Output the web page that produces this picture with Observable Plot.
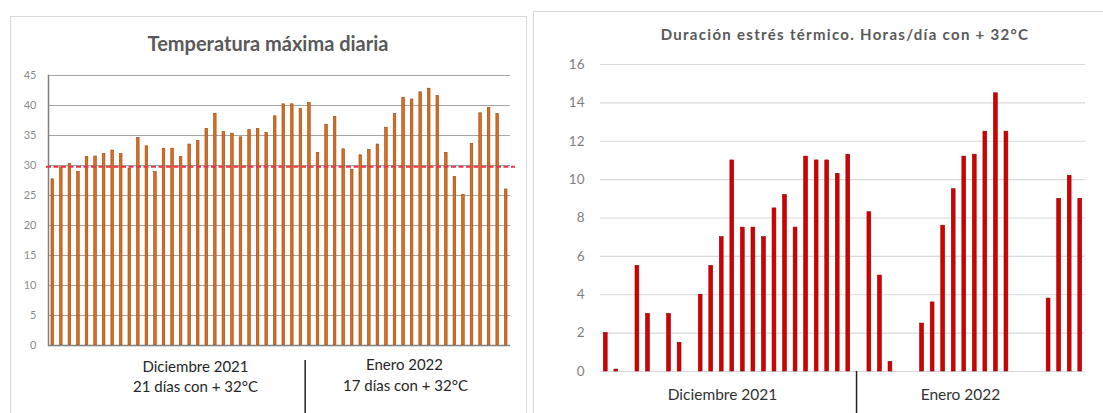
<!DOCTYPE html>
<html>
<head>
<meta charset="utf-8">
<script src="https://cdn.jsdelivr.net/npm/d3@7"></script>
<script src="https://cdn.jsdelivr.net/npm/@observablehq/plot@0.6"></script>
<style>
  html, body { margin: 0; padding: 0; background: #fff; }
  #page { position: relative; width: 1103px; height: 413px; overflow: hidden; background: #fff; font-family: Lato, "Open Sans", sans-serif; }
  .panel { position: absolute; border: 1px solid #d9d9d9; background: #fff; }
  .title { position: absolute; font-weight: bold; color: #595959; white-space: nowrap; transform: translate(-50%, -50%); }
  .chart { position: absolute; top: 0; }
</style>
</head>
<body>
<div id="page">
  <div class="panel" style="left:10px; top:16px; width:515px; height:420px;"></div>
  <div class="panel" style="left:533px; top:11px; width:600px; height:420px;"></div>
  <div class="title" style="left:268px; top:43px; font-size:20px;">Temperatura máxima diaria</div>
  <div class="title" style="left:845px; top:34px; font-size:15px; letter-spacing:1.3px;">Duración estrés térmico. Horas/día con + 32°C</div>
  <div id="left" class="chart" style="left:0px;"></div>
  <div id="right" class="chart" style="left:533px;"></div>
</div>
<script>
// ---- Left chart: daily maximum temperature (°C), 2 Dec 2021 – 24 Jan 2022
const leftDays = d3.utcDay.range(new Date(Date.UTC(2021, 11, 2)), new Date(Date.UTC(2022, 0, 25))).map(d => d3.utcFormat("%Y-%m-%d")(d));
const maxTemp = [27.7,29.7,30.3,28.9,31.4,31.5,31.9,32.5,31.9,29.5,
                 34.6,33.2,28.9,32.8,32.8,31.4,33.5,34.1,36.1,38.6,
                 35.6,35.3,34.7,35.9,36.1,35.4,38.2,40.2,40.2,39.4,
                 40.4,32.1,36.8,38.1,32.7,29.3,31.7,32.6,33.5,36.3,
                 38.6,41.3,41.0,42.2,42.8,41.6,32.1,28.1,25.1,33.6,
                 38.7,39.6,38.6,26.0];
const threshold = 29.8;
const leftTicks = [0,5,10,15,20,25,30,35,40,45];
const leftMonthLabels = ["Diciembre 2021", "Enero 2022"];
const leftMonthSub = ["21 días con + 32°C", "17 días con + 32°C"];

// ---- Right chart: hours/day above 32°C, 8 Dec 2021 – 22 Jan 2022
const rightDays = d3.utcDay.range(new Date(Date.UTC(2021, 11, 8)), new Date(Date.UTC(2022, 0, 23))).map(d => d3.utcFormat("%Y-%m-%d")(d));
const stressHours = [2,0.1,0,5.5,3,0,3,1.5,0,4,
                     5.5,7,11,7.5,7.5,7,8.5,9.2,7.5,11.2,
                     11,11,10.3,11.3,0,8.3,5,0.5,0,0,
                     2.5,3.6,7.6,9.5,11.2,11.3,12.5,14.5,12.5,0,
                     0,0,3.8,9,10.2,9];
const rightTicks = [0,2,4,6,8,10,12,14,16];
const rightMonthLabels = ["Diciembre 2021", "Enero 2022"];

const leftData = leftDays.map((d, i) => ({day: d, temp: maxTemp[i]}));
const rightData = rightDays.map((d, i) => ({day: d, hours: stressHours[i]}));

// ---------- Left
{
  const W = 530, H = 413, mL = 48, mR = 20, mT = 75, mB = 68;
  const step = (W - mL - mR) / leftDays.length;
  const firstJan = leftDays.find(d => d.startsWith("2022"));
  const chart = Plot.plot({
    width: W, height: H,
    marginLeft: mL, marginRight: mR, marginTop: mT, marginBottom: mB,
    style: {fontFamily: "Lato, sans-serif", background: "transparent", overflow: "visible"},
    x: {type: "band", domain: leftDays, paddingInner: 0.7, paddingOuter: 0.35, round: false, axis: null},
    y: {domain: [0, 45], axis: null},
    marks: [
      Plot.gridY(leftTicks, {stroke: "#a6a6a6", strokeOpacity: 1}),
      Plot.axisY(leftTicks, {tickSize: 0, tickPadding: 12, fontSize: 11, fill: "#8c8c8c", label: null}),
      Plot.barY(leftData, {x: "day", y: "temp", fill: "#dd6c1c", stroke: "#94460f", strokeWidth: 0.6}),
      Plot.ruleY([0], {stroke: "#808080", strokeWidth: 1.5}),
      Plot.frame({anchor: "left", stroke: "#808080", strokeWidth: 1.5}),
      Plot.ruleY([threshold], {stroke: "#e8364e", strokeWidth: 2, strokeDasharray: "5,2.5", insetLeft: -2, insetRight: -5}),
      Plot.ruleX([firstJan], {y1: -2.5, y2: -12, dx: -step / 2, stroke: "#222", strokeWidth: 1.5}),
      Plot.text([leftMonthLabels[0]], {frameAnchor: "bottom-left", textAnchor: "middle", dx: 147, dy: 26, fontSize: 15, fill: "#262626"}),
      Plot.text([leftMonthSub[0]], {frameAnchor: "bottom-left", textAnchor: "middle", dx: 147, dy: 46, fontSize: 15, fill: "#262626"}),
      Plot.text([leftMonthLabels[1]], {frameAnchor: "bottom-left", textAnchor: "middle", dx: 356, dy: 24, fontSize: 15, fill: "#262626"}),
      Plot.text([leftMonthSub[1]], {frameAnchor: "bottom-left", textAnchor: "middle", dx: 357, dy: 45, fontSize: 15, fill: "#262626"})
    ]
  });
  document.getElementById("left").append(chart);
}

// ---------- Right
{
  const W = 570, H = 413, mL = 67, mR = 18, mT = 64, mB = 42;
  const step = (W - mL - mR) / rightDays.length;
  const firstJan = rightDays.find(d => d.startsWith("2022"));
  const chart = Plot.plot({
    width: W, height: H,
    marginLeft: mL, marginRight: mR, marginTop: mT, marginBottom: mB,
    style: {fontFamily: "Lato, sans-serif", background: "transparent", overflow: "visible"},
    x: {type: "band", domain: rightDays, paddingInner: 0.64, paddingOuter: 0.32, round: false, axis: null},
    y: {domain: [0, 16], axis: null},
    marks: [
      Plot.gridY(rightTicks, {stroke: "#d9d9d9", strokeOpacity: 1, strokeWidth: 1.2}),
      Plot.axisY(rightTicks, {tickSize: 0, tickPadding: 16, fontSize: 13.5, fill: "#7f7f7f", label: null}),
      Plot.barY(rightData, {x: "day", y: "hours", fill: "#d40000", stroke: "#8e0000", strokeWidth: 0.6}),
      Plot.ruleX([firstJan], {y1: 0, y2: -2.3, dx: -step / 2 + 3, stroke: "#222", strokeWidth: 1.5}),
      Plot.text([rightMonthLabels[0]], {frameAnchor: "bottom-left", textAnchor: "middle", dx: 122, dy: 28, fontSize: 15.5, fill: "#333"}),
      Plot.text([rightMonthLabels[1]], {frameAnchor: "bottom-left", textAnchor: "middle", dx: 360, dy: 28, fontSize: 15.5, fill: "#333"})
    ]
  });
  document.getElementById("right").append(chart);
}
</script>
</body>
</html>
